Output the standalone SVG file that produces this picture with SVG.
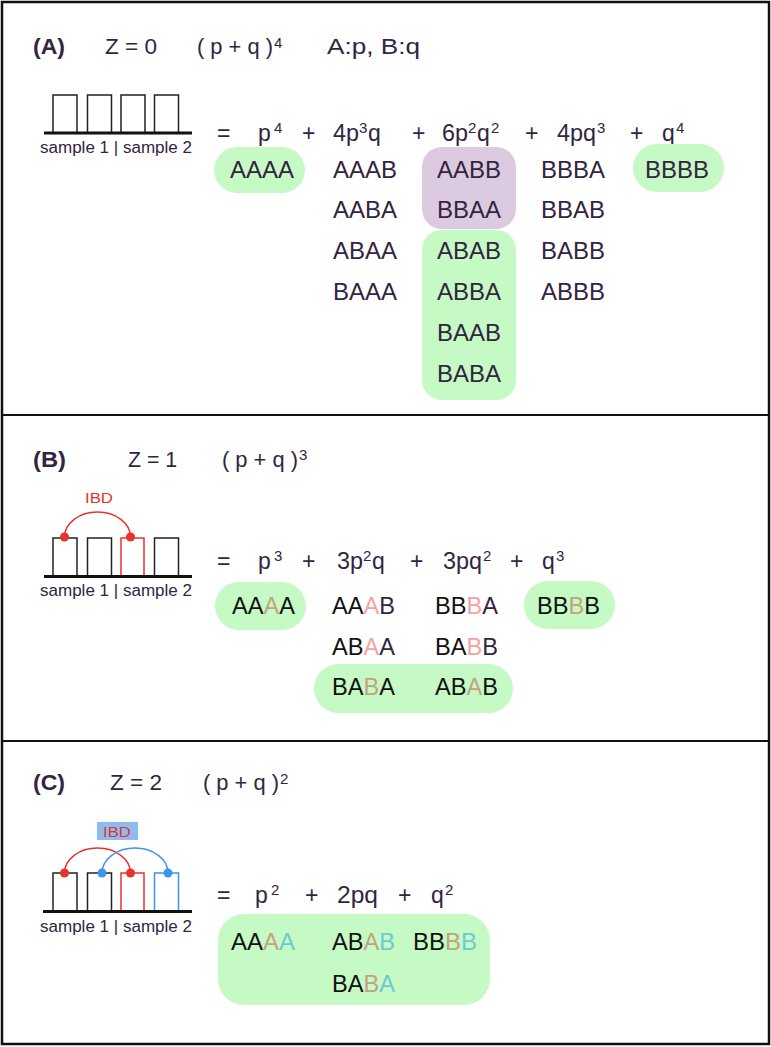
<svg xmlns="http://www.w3.org/2000/svg" width="771" height="1047" viewBox="0 0 771 1047">
<style>
text{font-family:"Liberation Sans",Arial,sans-serif;fill:#33243f}
.hd{font-size:22px}
.bold{font-weight:bold}
.eq{font-size:23px}
.sup{font-size:15px}
.g{font-size:23px}
.smp{font-size:16px}
.k{fill:#111}
.tan{fill:#c4a27f}
.pink{fill:#f4a3a3}
.teal{fill:#6ccbd2}
.box{fill:none;stroke:#222;stroke-width:1.5}
.rbox{fill:none;stroke:#e8332a;stroke-width:1.5}
.bbox{fill:none;stroke:#3b95e8;stroke-width:1.5}
.base{stroke:#111;stroke-width:3}
.green{fill:#c5fac5}
.purple{fill:#dccbe0}
.div{stroke:#111;stroke-width:2}
</style>
<rect x="2" y="2" width="767" height="1042" fill="#fff" stroke="#111" stroke-width="2.5"/>
<line class="div" x1="2" y1="415" x2="769" y2="415"/>
<line class="div" x1="2" y1="741" x2="769" y2="741"/>

<g id="panelA">
<g id="A-header">
<text class="hd bold" x="33" y="54" textLength="32" lengthAdjust="spacingAndGlyphs">(A)</text>
<text class="hd" x="105" y="54" textLength="52" lengthAdjust="spacingAndGlyphs">Z = 0</text>
<text class="hd" x="197" y="54" textLength="76" lengthAdjust="spacingAndGlyphs">( p + q )</text>
<text class="sup" x="274" y="48">4</text>
<text class="hd" x="327" y="54" textLength="93" lengthAdjust="spacingAndGlyphs">A:p, B:q</text>
</g>
<g id="A-loci">
<rect class="box" x="53" y="95" width="24" height="38"/>
<rect class="box" x="87.5" y="95" width="24" height="38"/>
<rect class="box" x="121" y="95" width="24" height="38"/>
<rect class="box" x="154.5" y="95" width="24" height="38"/>
<line class="base" x1="44" y1="133" x2="192" y2="133"/>
<text class="smp" x="40" y="153" textLength="152" lengthAdjust="spacingAndGlyphs">sample 1 | sample 2</text>
</g>
<g id="A-equation">
<text class="eq" x="217" y="141">=</text>
<text class="eq" x="258" y="141">p</text><text class="sup" x="274" y="133">4</text>
<text class="eq" x="302" y="141">+</text>
<text class="eq" x="333" y="141" textLength="26" lengthAdjust="spacingAndGlyphs">4p</text><text class="sup" x="359" y="133">3</text><text class="eq" x="368" y="141">q</text>
<text class="eq" x="412" y="141">+</text>
<text class="eq" x="442" y="141" textLength="26" lengthAdjust="spacingAndGlyphs">6p</text><text class="sup" x="468" y="133">2</text><text class="eq" x="477" y="141">q</text><text class="sup" x="491" y="133">2</text>
<text class="eq" x="525" y="141">+</text>
<text class="eq" x="557" y="141" textLength="39" lengthAdjust="spacingAndGlyphs">4pq</text><text class="sup" x="597" y="133">3</text>
<text class="eq" x="630" y="141">+</text>
<text class="eq" x="662" y="141">q</text><text class="sup" x="676" y="133">4</text>
</g>
<g id="A-highlights">
<rect class="green" x="214" y="147" width="91" height="46" rx="23"/>
<rect class="green" x="633" y="144" width="91" height="48" rx="24"/>
<rect class="purple" x="422" y="147" width="94" height="82" rx="20"/>
<rect class="green" x="422" y="230" width="94" height="170" rx="20"/>
</g>
<g id="A-genotypes" class="g">
<text x="230" y="178" textLength="64" lengthAdjust="spacingAndGlyphs">AAAA</text>
<text x="333" y="178" textLength="64" lengthAdjust="spacingAndGlyphs">AAAB</text>
<text x="333" y="218" textLength="64" lengthAdjust="spacingAndGlyphs">AABA</text>
<text x="333" y="259" textLength="64" lengthAdjust="spacingAndGlyphs">ABAA</text>
<text x="333" y="300" textLength="64" lengthAdjust="spacingAndGlyphs">BAAA</text>
<text x="437" y="178" textLength="64" lengthAdjust="spacingAndGlyphs">AABB</text>
<text x="437" y="218" textLength="64" lengthAdjust="spacingAndGlyphs">BBAA</text>
<text x="437" y="259" textLength="64" lengthAdjust="spacingAndGlyphs">ABAB</text>
<text x="437" y="300" textLength="64" lengthAdjust="spacingAndGlyphs">ABBA</text>
<text x="437" y="341" textLength="64" lengthAdjust="spacingAndGlyphs">BAAB</text>
<text x="437" y="382" textLength="64" lengthAdjust="spacingAndGlyphs">BABA</text>
<text x="541" y="178" textLength="64" lengthAdjust="spacingAndGlyphs">BBBA</text>
<text x="541" y="218" textLength="64" lengthAdjust="spacingAndGlyphs">BBAB</text>
<text x="541" y="259" textLength="64" lengthAdjust="spacingAndGlyphs">BABB</text>
<text x="541" y="300" textLength="64" lengthAdjust="spacingAndGlyphs">ABBB</text>
<text x="645" y="178" textLength="64" lengthAdjust="spacingAndGlyphs">BBBB</text>
</g>
</g>

<g id="panelB">
<g id="B-header">
<text class="hd bold" x="33" y="467" textLength="33" lengthAdjust="spacingAndGlyphs">(B)</text>
<text class="hd" x="128" y="467" textLength="49" lengthAdjust="spacingAndGlyphs">Z = 1</text>
<text class="hd" x="222" y="467" textLength="76" lengthAdjust="spacingAndGlyphs">( p + q )</text>
<text class="sup" x="299" y="460">3</text>
</g>
<g id="B-loci">
<text x="85" y="503" style="font-size:15px;fill:#e8332a" textLength="28" lengthAdjust="spacingAndGlyphs">IBD</text>
<rect class="box" x="53" y="538" width="24" height="38"/>
<rect class="box" x="87.5" y="538" width="24" height="38"/>
<rect class="rbox" x="121" y="538" width="23" height="38"/>
<rect class="box" x="154.5" y="538" width="24" height="38"/>
<line class="base" x1="44" y1="576.5" x2="192" y2="576.5"/>
<text class="smp" x="40" y="596" textLength="152" lengthAdjust="spacingAndGlyphs">sample 1 | sample 2</text>
</g>
<g id="B-connectors">
<path d="M64.5,537 A33,25 0 0 1 130.5,537" fill="none" stroke="#e8332a" stroke-width="1.5"/>
<circle cx="64.5" cy="537" r="4.5" fill="#e8332a"/>
<circle cx="130.5" cy="537" r="4.5" fill="#e8332a"/>
</g>
<g id="B-equation">
<text class="eq" x="217" y="569">=</text>
<text class="eq" x="258" y="569">p</text><text class="sup" x="274" y="561">3</text>
<text class="eq" x="302" y="569">+</text>
<text class="eq" x="337" y="569" textLength="26" lengthAdjust="spacingAndGlyphs">3p</text><text class="sup" x="363" y="561">2</text><text class="eq" x="372" y="569">q</text>
<text class="eq" x="410" y="569">+</text>
<text class="eq" x="443" y="569" textLength="39" lengthAdjust="spacingAndGlyphs">3pq</text><text class="sup" x="483" y="561">2</text>
<text class="eq" x="510" y="569">+</text>
<text class="eq" x="542" y="569">q</text><text class="sup" x="556" y="561">3</text>
</g>
<g id="B-highlights">
<rect class="green" x="215" y="582" width="91" height="48" rx="24"/>
<rect class="green" x="524" y="581" width="91" height="48" rx="24"/>
<rect class="green" x="314" y="664" width="199" height="49" rx="24.5"/>
</g>
<g id="B-genotypes" class="g">
<text x="232" y="614" textLength="63" lengthAdjust="spacingAndGlyphs"><tspan class="k">AA</tspan><tspan class="tan">A</tspan><tspan class="k">A</tspan></text>
<text x="332" y="614" textLength="63" lengthAdjust="spacingAndGlyphs"><tspan class="k">AA</tspan><tspan class="pink">A</tspan>B</text>
<text x="332" y="655" textLength="63" lengthAdjust="spacingAndGlyphs"><tspan class="k">AB</tspan><tspan class="pink">A</tspan>A</text>
<text x="332" y="695" textLength="63" lengthAdjust="spacingAndGlyphs"><tspan class="k">BA</tspan><tspan class="tan">B</tspan><tspan class="k">A</tspan></text>
<text x="435" y="614" textLength="63" lengthAdjust="spacingAndGlyphs"><tspan class="k">BB</tspan><tspan class="pink">B</tspan>A</text>
<text x="435" y="655" textLength="63" lengthAdjust="spacingAndGlyphs"><tspan class="k">BA</tspan><tspan class="pink">B</tspan>B</text>
<text x="435" y="695" textLength="63" lengthAdjust="spacingAndGlyphs"><tspan class="k">AB</tspan><tspan class="tan">A</tspan><tspan class="k">B</tspan></text>
<text x="537" y="614" textLength="63" lengthAdjust="spacingAndGlyphs"><tspan class="k">BB</tspan><tspan class="tan">B</tspan><tspan class="k">B</tspan></text>
</g>
</g>

<g id="panelC">
<g id="C-header">
<text class="hd bold" x="33" y="790" textLength="32" lengthAdjust="spacingAndGlyphs">(C)</text>
<text class="hd" x="110" y="790" textLength="52" lengthAdjust="spacingAndGlyphs">Z = 2</text>
<text class="hd" x="203" y="790" textLength="76" lengthAdjust="spacingAndGlyphs">( p + q )</text>
<text class="sup" x="280" y="784">2</text>
</g>
<g id="C-loci">
<rect x="97" y="822" width="41" height="18" fill="#8dbcf0"/>
<text x="103" y="837" style="font-size:15px;fill:#e8332a" textLength="28" lengthAdjust="spacingAndGlyphs">IBD</text>
<rect class="box" x="53" y="873" width="24" height="38"/>
<rect class="box" x="87.5" y="873" width="24" height="38"/>
<rect class="rbox" x="121" y="873" width="23" height="38"/>
<rect class="bbox" x="154.5" y="873" width="24" height="38"/>
<line class="base" x1="43" y1="911.5" x2="192" y2="911.5"/>
<text class="smp" x="40" y="932" textLength="152" lengthAdjust="spacingAndGlyphs">sample 1 | sample 2</text>
</g>
<g id="C-connectors">
<path d="M64.5,873 A33,25 0 0 1 130.5,873" fill="none" stroke="#e8332a" stroke-width="1.5"/>
<path d="M102,873 A33,25 0 0 1 168,873" fill="none" stroke="#3b95e8" stroke-width="1.5"/>
<circle cx="64.5" cy="873" r="4.5" fill="#e8332a"/>
<circle cx="130.5" cy="873" r="4.5" fill="#e8332a"/>
<circle cx="102" cy="873" r="4.5" fill="#3b95e8"/>
<circle cx="168" cy="873" r="4.5" fill="#3b95e8"/>
</g>
<g id="C-equation">
<text class="eq" x="217" y="903">=</text>
<text class="eq" x="255" y="903">p</text><text class="sup" x="271" y="895">2</text>
<text class="eq" x="305" y="903">+</text>
<text class="eq" x="337" y="903" textLength="41" lengthAdjust="spacingAndGlyphs">2pq</text>
<text class="eq" x="398" y="903">+</text>
<text class="eq" x="431" y="903">q</text><text class="sup" x="445" y="895">2</text>
</g>
<g id="C-highlights">
<rect class="green" x="218" y="914" width="272" height="91" rx="26"/>
</g>
<g id="C-genotypes" class="g">
<text x="231" y="950" textLength="64" lengthAdjust="spacingAndGlyphs"><tspan class="k">AA</tspan><tspan class="tan">A</tspan><tspan class="teal">A</tspan></text>
<text x="332" y="950" textLength="63" lengthAdjust="spacingAndGlyphs"><tspan class="k">AB</tspan><tspan class="tan">A</tspan><tspan class="teal">B</tspan></text>
<text x="413" y="950" textLength="64" lengthAdjust="spacingAndGlyphs"><tspan class="k">BB</tspan><tspan class="tan">B</tspan><tspan class="teal">B</tspan></text>
<text x="332" y="992" textLength="63" lengthAdjust="spacingAndGlyphs"><tspan class="k">BA</tspan><tspan class="tan">B</tspan><tspan class="teal">A</tspan></text>
</g>
</g>
</svg>
